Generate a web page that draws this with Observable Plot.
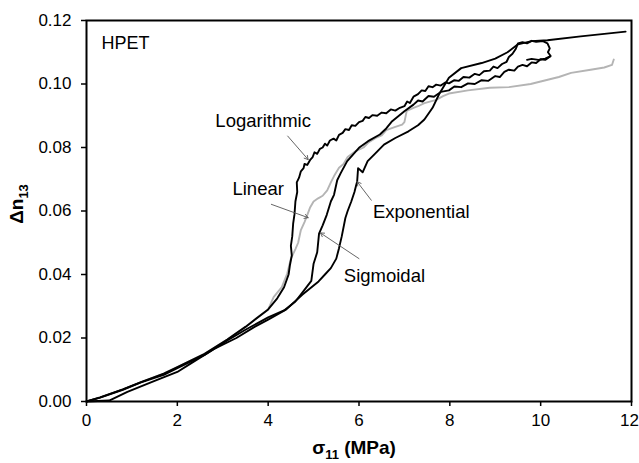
<!DOCTYPE html>
<html>
<head>
<meta charset="utf-8">
<script src="https://cdn.jsdelivr.net/npm/d3@7"></script>
<script src="https://cdn.jsdelivr.net/npm/@observablehq/plot@0.6"></script>
<style>
  html, body { margin: 0; padding: 0; background: white; }
</style>
</head>
<body>
<div id="chart"></div>
<script>
const xTicks = [0, 2, 4, 6, 8, 10, 12];
const yTicks = [0, 0.02, 0.04, 0.06, 0.08, 0.10, 0.12];

const logarithmic = [
  [0,0],[0.3,0.0013],[0.8,0.0038],[1.2,0.0061],[1.7,0.0088],[2.0,0.0108],[2.6,0.0150],[3.1,0.0195],[3.5,0.0235],[4.0,0.0290],
  [4.2,0.0325],[4.35,0.0360],[4.45,0.0400],[4.48,0.0430],[4.52,0.0460],[4.5,0.0490],[4.53,0.0520],[4.55,0.0560],[4.58,0.0590],
  [4.6,0.0630],[4.64,0.0660],[4.63,0.0690],[4.68,0.0705],[4.72,0.0725],[4.78,0.0735],[4.8,0.0748],[4.86,0.0745],[4.93,0.0762],
  [4.98,0.0770],[5.02,0.0785],[5.08,0.0780],[5.14,0.0796],[5.2,0.0800],[5.25,0.0812],[5.3,0.0806],[5.36,0.0822],[5.44,0.0828],
  [5.5,0.0822],[5.56,0.0840],[5.64,0.0846],[5.7,0.0858],[5.78,0.0855],[5.84,0.0870],[5.92,0.0868],[6.0,0.0880],[6.08,0.0884],
  [6.14,0.0896],[6.22,0.0893],[6.3,0.0902],[6.4,0.0900],[6.5,0.0910],[6.6,0.0908],[6.7,0.0920],[6.8,0.0916],[6.9,0.0925],
  [7.0,0.0930],[7.06,0.0945],[7.12,0.0940],[7.2,0.0960],[7.3,0.0968],[7.38,0.0980],[7.46,0.0978],[7.53,0.0993],[7.62,0.0990],
  [7.7,0.0998],[7.8,0.0995],[7.9,0.1005],[7.98,0.1002],[8.1,0.1012],[8.2,0.1010],[8.3,0.1022],[8.43,0.1020],[8.55,0.1032],
  [8.65,0.1028],[8.75,0.1040],[8.88,0.1042],[8.96,0.1055],[9.05,0.1050],[9.15,0.1063],[9.25,0.1070],[9.3,0.1085],[9.38,0.1095],
  [9.45,0.1110],[9.5,0.1128],[9.6,0.1132],[9.7,0.1128],[9.8,0.1136],[9.9,0.1133],[10.05,0.1135],[10.15,0.1128],[10.2,0.1112],
  [10.16,0.1100],[10.22,0.1088],[10.1,0.1080],[9.95,0.1076],[9.8,0.1079],[9.7,0.1076]
];
const linear = [
  [0,0],[0.3,0.0013],[0.8,0.0038],[1.2,0.0061],[1.7,0.0088],[2.0,0.0108],[2.6,0.0150],[3.1,0.0195],[3.5,0.0235],[4.0,0.0290],
  [4.12,0.0329],[4.3,0.0360],[4.42,0.0403],[4.5,0.0450],[4.6,0.0480],[4.66,0.0500],[4.72,0.0540],[4.8,0.0565],[4.86,0.0587],
  [4.92,0.0610],[5.0,0.0630],[5.1,0.0640],[5.2,0.0648],[5.3,0.0665],[5.38,0.0690],[5.45,0.0710],[5.56,0.0736],[5.66,0.0748],
  [5.75,0.0770],[5.92,0.0788],[6.1,0.0800],[6.2,0.0815],[6.37,0.0830],[6.5,0.0838],[6.6,0.0855],[6.8,0.0865],[6.95,0.0872],
  [7.0,0.0880],[7.05,0.0915],[7.2,0.0925],[7.3,0.0930],[7.44,0.0940],[7.7,0.0950],[7.85,0.0962],[7.98,0.0970],[8.4,0.0980],
  [8.88,0.0988],[9.3,0.0990],[9.78,0.1000],[10.0,0.1008],[10.2,0.1015],[10.4,0.1022],[10.67,0.1035],[11.1,0.1045],
  [11.4,0.1052],[11.57,0.1060],[11.61,0.1077]
];
const sigmoidal = [
  [0,0],[0.3,0.0012],[0.8,0.0037],[1.2,0.0060],[1.7,0.0084],[2.0,0.0105],[2.6,0.0147],[3.1,0.0192],[3.5,0.0226],[4.0,0.0265],
  [4.35,0.0287],[4.6,0.0315],[4.79,0.0350],[4.95,0.0380],[5.0,0.0434],[5.08,0.0470],[5.12,0.0529],[5.2,0.0555],[5.29,0.0588],
  [5.38,0.0630],[5.45,0.0651],[5.52,0.0697],[5.6,0.0720],[5.74,0.0757],[6.0,0.0799],[6.2,0.0820],[6.46,0.0841],[6.6,0.0860],
  [6.73,0.0883],[7.0,0.0914],[7.2,0.0935],[7.3,0.0948],[7.4,0.0945],[7.53,0.0962],[7.65,0.0960],[7.8,0.0975],[7.98,0.0980],
  [8.1,0.0992],[8.25,0.0990],[8.4,0.1002],[8.55,0.1000],[8.7,0.1012],[8.85,0.1010],[9.0,0.1025],[9.1,0.1022],[9.2,0.1038],
  [9.3,0.1045],[9.42,0.1042],[9.5,0.1055],[9.6,0.1060],[9.7,0.1056],[9.8,0.1068],[9.9,0.1066],[10.0,0.1078],[10.1,0.1076],
  [10.2,0.1086]
];
const exponential = [
  [0,0],[0.5,0.0003],[0.9,0.0030],[1.5,0.0065],[2.0,0.0093],[2.3,0.0120],[2.8,0.0165],[3.3,0.0200],[3.7,0.0235],[4.0,0.0258],
  [4.4,0.0290],[4.75,0.0336],[5.11,0.0378],[5.25,0.0400],[5.38,0.0420],[5.5,0.0450],[5.56,0.0483],[5.62,0.0520],[5.7,0.0578],
  [5.75,0.0600],[5.83,0.0630],[5.9,0.0660],[5.96,0.0694],[5.98,0.0735],[6.08,0.0722],[6.19,0.0757],[6.35,0.0780],[6.55,0.0809],
  [6.8,0.0830],[7.09,0.0851],[7.3,0.0870],[7.44,0.0888],[7.62,0.0925],[7.76,0.0967],[7.98,0.1020],[8.25,0.1050],[8.7,0.1066],
  [9.0,0.1080],[9.27,0.1100],[9.5,0.1125],[9.8,0.1135],[10.15,0.1138],[10.88,0.1150],[11.87,0.1165]
];

const labelNames = ["Logarithmic", "Linear", "Exponential", "Sigmoidal"];
const labelX = [3.89, 3.78, 7.37, 6.56];
const labelY = [0.0884, 0.0669, 0.0597, 0.0394];
const panelName = "HPET";
const panelX = 0.33;
const panelY = 0.1128;

const arrowX1 = [4.43, 4.07, 6.27, 6.0];
const arrowY1 = [0.0836, 0.0621, 0.0634, 0.0450];
const arrowX2 = [4.88, 4.88, 5.96, 5.15];
const arrowY2 = [0.0762, 0.0579, 0.0692, 0.0531];

const toRows = (arr) => arr.map(([x, y]) => ({x, y}));
const labels = labelNames.map((t, i) => ({t, x: labelX[i], y: labelY[i]}));
const arrows = arrowX1.map((_, i) => ({x1: arrowX1[i], y1: arrowY1[i], x2: arrowX2[i], y2: arrowY2[i]}));

const font = "'Liberation Sans', Arial, sans-serif";

const chart = Plot.plot({
  width: 639,
  height: 463,
  marginLeft: 86,
  marginRight: 8,
  marginTop: 20,
  marginBottom: 62,
  style: {fontFamily: font, fontSize: "17px", color: "black", background: "white"},
  x: {domain: [0, 12], label: null},
  y: {domain: [0, 0.12], label: null},
  marks: [
    Plot.axisX({ticks: xTicks, tickSize: 5, tickPadding: 7, strokeWidth: 1.5, fontSize: 17, label: null}),
    Plot.axisY({ticks: yTicks, tickSize: 5, tickPadding: 10, strokeWidth: 1.5, fontSize: 17, tickFormat: d3.format(".2f"), label: null}),
    Plot.line(toRows(linear), {x: "x", y: "y", stroke: "#b4b4b4", strokeWidth: 1.9}),
    Plot.line(toRows(exponential), {x: "x", y: "y", stroke: "black", strokeWidth: 1.9}),
    Plot.line(toRows(sigmoidal), {x: "x", y: "y", stroke: "black", strokeWidth: 1.9}),
    Plot.line(toRows(logarithmic), {x: "x", y: "y", stroke: "black", strokeWidth: 1.9}),
    Plot.arrow(arrows, {x1: "x1", y1: "y1", x2: "x2", y2: "y2", stroke: "#555", strokeWidth: 0.9, headLength: 7}),
    Plot.text(labels, {x: "x", y: "y", text: "t", textAnchor: "middle", fontSize: 18.5, fill: "black"}),
    Plot.text([panelName], {x: panelX, y: panelY, text: (d) => d, textAnchor: "start", fontSize: 18, fill: "black"}),
    Plot.frame({stroke: "black", strokeWidth: 2})
  ]
});

document.getElementById("chart").appendChild(chart);

const svg = d3.select(chart);
// keep the last x tick label inside the window
svg.selectAll("text").filter(function () { return this.textContent === "12"; }).attr("dx", -2);

// Axis titles with subscripts
const xt = svg.append("text")
  .attr("x", 354).attr("y", 454)
  .attr("text-anchor", "middle")
  .attr("font-family", font).attr("font-size", 19).attr("font-weight", "bold")
  .attr("fill", "black");
xt.append("tspan").text("σ");
xt.append("tspan").attr("font-size", 13).attr("dy", 5).text("11");
xt.append("tspan").attr("dy", -5).text(" (MPa)");

const yt = svg.append("text")
  .attr("transform", "translate(23,204) rotate(-90)")
  .attr("text-anchor", "middle")
  .attr("font-family", font).attr("font-size", 19).attr("font-weight", "bold")
  .attr("fill", "black");
yt.append("tspan").text("Δn");
yt.append("tspan").attr("font-size", 13).attr("dy", 5).text("13");
</script>
</body>
</html>
